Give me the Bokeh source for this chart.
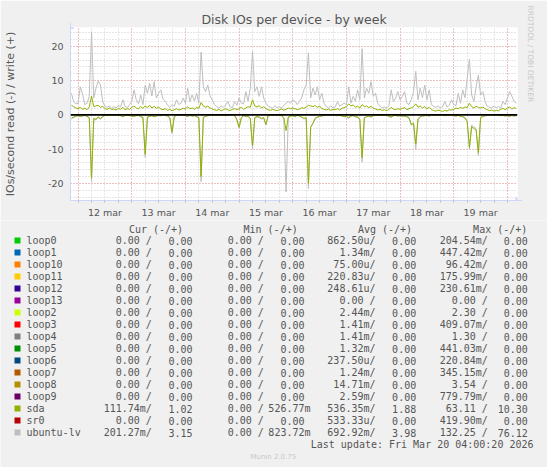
from bokeh.plotting import figure
from bokeh.models import Range1d, FixedTicker, Span, Arrow, NormalHead, Title
from bokeh.core.properties import value
from bokeh.embed import file_html
from bokeh.resources import INLINE

# ---------------- data ----------------
# hourly samples, hours since 12 Mar 2026 00:00 (from 11 Mar 21:00 to 20 Mar 04:00)
hours = list(range(-3, 197))

ubuntu_lv_write = [
    6.3, 3.9, 3.2,
    3.4, 8.2, 6.0, 3.0, 3.4, 5.4, 24.2, 4.9, 7.8, 9.9, 8.7, 3.9, 2.5, 2.2, 2.6, 1.9, 2.4, 2.0, 2.8, 2.3, 4.4, 2.5, 2.1, 3.0,
    3.9, 7.3, 4.4, 3.2, 5.8, 3.0, 8.7, 6.3, 9.2, 5.5, 9.7, 4.9, 6.3, 7.3, 4.5, 3.9, 2.8, 2.2, 3.0, 2.5, 4.4, 3.0, 3.4, 4.9,
    3.4, 7.8, 3.9, 5.8, 4.0, 6.3, 3.5, 18.3, 8.2, 6.8, 8.7, 5.5, 4.4, 3.0, 2.4, 2.0, 2.6, 2.2, 2.9, 3.9, 2.3, 2.1, 3.9, 2.8,
    4.9, 3.4, 3.2, 6.8, 4.0, 7.8, 18.5, 6.8, 8.2, 5.4, 8.2, 4.9, 3.4, 2.5, 2.2, 2.0, 2.6, 2.1, 2.4, 2.0, 2.8, 3.4, 3.9, 3.4,
    4.4, 3.9, 3.0, 3.9, 5.0, 7.3, 8.7, 18.1, 4.9, 7.8, 5.8, 8.2, 4.4, 6.3, 3.4, 2.4, 2.1, 2.6, 2.0, 2.3, 3.9, 2.5, 3.0, 3.4,
    3.0, 8.2, 3.4, 5.4, 4.0, 7.3, 4.4, 19.3, 4.9, 7.8, 6.3, 9.7, 5.4, 6.3, 3.4, 2.5, 2.1, 2.3, 2.0, 2.6, 7.3, 3.9, 4.9, 6.8,
    4.4, 5.4, 6.8, 3.4, 3.0, 4.5, 6.8, 12.7, 4.4, 7.8, 5.0, 8.7, 4.4, 7.3, 3.0, 2.5, 2.2, 2.6, 2.0, 2.4, 3.9, 2.3, 2.8, 4.4,
    3.0, 2.7, 6.3, 3.4, 7.3, 5.0, 10.6, 16.2, 5.8, 3.9, 8.2, 11.6, 5.8, 6.8, 3.9, 2.5, 2.2, 2.0, 2.6, 2.1, 2.4, 2.0, 3.9, 3.0,
    4.9, 6.8, 5.4, 3.9, 3.4,
]

sda_write = [
    2.8, 2.4, 2.0,
    1.8, 2.2, 1.6, 1.9, 1.5, 2.3, 5.5, 2.4, 2.6, 2.8, 2.2, 2.5, 1.8, 1.6, 2.0, 1.5, 1.7, 1.4, 1.9, 1.6, 2.2, 1.5, 1.8, 1.6,
    2.2, 2.6, 2.0, 1.8, 2.4, 1.9, 2.6, 2.1, 2.8, 2.0, 2.5, 1.9, 2.3, 1.7, 1.5, 1.8, 1.3, 1.6, 1.2, 1.5, 1.8, 1.4, 1.6, 1.9,
    1.7, 2.4, 1.8, 2.0, 1.6, 2.2, 1.9, 3.6, 2.6, 2.2, 2.5, 2.0, 1.7, 1.5, 1.3, 1.6, 1.2, 1.5, 1.8, 1.4, 1.3, 1.6, 1.8, 1.5,
    1.8, 2.2, 1.6, 2.0, 2.4, 2.2, 4.4, 2.6, 2.3, 2.7, 2.0, 2.4, 1.8, 1.5, 1.3, 1.6, 1.4, 1.2, 1.5, 1.7, 1.4, 1.6, 2.0, 1.8,
    2.0, 1.8, 1.5, 1.7, 2.1, 1.9, 2.3, 2.8, 2.6, 2.4, 2.7, 2.2, 2.5, 1.9, 1.6, 1.4, 1.7, 1.3, 1.6, 1.5, 1.8, 1.4, 1.9, 2.1,
    2.4, 3.2, 2.6, 2.9, 2.2, 2.5, 2.0, 3.0, 2.4, 2.6, 2.1, 2.5, 1.9, 1.7, 1.4, 1.6, 1.3, 1.5, 1.2, 1.6, 2.2, 1.7, 1.5, 1.8,
    1.6, 1.9, 2.1, 1.5, 1.8, 2.0, 2.4, 3.2, 2.2, 2.6, 2.0, 2.4, 1.8, 2.2, 1.5, 1.3, 1.1, 1.4, 1.2, 1.0, 1.3, 1.1, 1.5, 1.4,
    1.6, 2.0, 1.8, 2.2, 1.9, 2.3, 2.1, 3.4, 2.4, 2.0, 2.5, 2.2, 2.0, 2.3, 1.8, 1.5, 1.2, 1.4, 1.1, 1.3, 1.2, 1.6, 1.9, 1.5,
    2.0, 2.3, 1.7, 2.1, 1.9,
]

ubuntu_lv_read = [
    -1.2, -0.8, -0.5,
    -0.3, -0.6, -0.4, -0.2, -0.5, -1.0, -19.5, -1.2, -1.5, -0.8, -1.3, -0.5, -0.2, -0.1, -0.2, -0.1, -0.1, -0.2, -0.1, -0.3, -0.6, -0.2, -0.1, -0.3,
    -0.4, -0.5, -0.3, -0.2, -0.6, -0.9, -12.4, -0.8, -0.5, -0.3, -0.6, -0.4, -0.2, -0.3, -0.1, -0.2, -0.4, -1.0, -5.5, -0.6, -0.2, -0.1, -0.2, -0.1,
    -0.3, -0.5, -0.2, -0.4, -0.3, -0.6, -1.0, -19.5, -0.9, -0.5, -0.3, -0.2, -0.1, -0.2, -0.1, -0.1, -0.2, -0.1, -0.3, -0.2, -0.1, -0.1, -0.2, -1.5,
    -3.9, -1.0, -0.3, -0.5, -0.4, -1.2, -10.0, -1.0, -0.6, -0.8, -1.2, -1.0, -3.0, -0.3, -0.2, -0.1, -0.2, -0.1, -0.2, -0.3, -1.0, -22.5, -0.8, -0.4,
    -0.3, -0.6, -0.2, -0.4, -0.8, -1.2, -1.0, -21.5, -3.7, -2.5, -1.2, -0.8, -0.5, -0.4, -0.2, -0.1, -0.2, -0.1, -0.1, -0.2, -0.3, -0.2, -0.4, -0.6,
    -0.5, -1.0, -0.4, -0.3, -0.6, -0.8, -1.5, -13.8, -1.0, -0.6, -0.4, -0.7, -0.3, -0.2, -0.1, -0.2, -0.1, -0.1, -0.2, -0.5, -0.8, -0.3, -0.2, -0.4,
    -0.3, -0.5, -0.4, -0.6, -1.0, -3.0, -2.5, -10.0, -1.5, -0.6, -0.4, -0.3, -0.2, -0.4, -0.1, -0.2, -0.1, -0.1, -0.2, -0.1, -0.3, -0.2, -0.1, -0.2,
    -0.3, -0.4, -0.2, -0.5, -0.6, -1.0, -2.0, -10.0, -3.0, -3.5, -4.0, -11.9, -1.0, -0.5, -0.3, -0.2, -0.1, -0.1, -0.2, -0.1, -0.2, -0.3, -0.2, -0.4,
    -0.3, -0.5, -0.2, -0.4, -0.3,
]

sda_read = [
    -1.0, -0.6, -0.3,
    -0.2, -0.4, -0.3, -0.1, -0.4, -0.8, -18.5, -1.0, -1.3, -0.6, -1.1, -0.4, -0.1, -0.1, -0.1, -0.1, -0.1, -0.1, -0.1, -0.2, -0.5, -0.1, -0.1, -0.2,
    -0.3, -0.4, -0.2, -0.1, -0.5, -0.7, -11.5, -0.6, -0.4, -0.2, -0.5, -0.3, -0.1, -0.2, -0.1, -0.1, -0.3, -0.8, -5.0, -0.5, -0.1, -0.1, -0.1, -0.1,
    -0.2, -0.4, -0.1, -0.3, -0.2, -0.5, -0.8, -18.0, -0.7, -0.4, -0.2, -0.1, -0.1, -0.1, -0.1, -0.1, -0.1, -0.2, -0.1, -0.1, -0.1, -0.1, -0.2, -1.3,
    -3.6, -0.8, -0.2, -0.4, -0.3, -1.0, -9.0, -0.8, -0.5, -0.6, -1.0, -0.8, -2.8, -0.2, -0.1, -0.1, -0.1, -0.1, -0.1, -0.2, -0.8, -4.6, -0.6, -0.3,
    -0.2, -0.5, -0.1, -0.3, -0.6, -1.0, -0.8, -20.0, -3.6, -2.5, -1.0, -0.6, -0.4, -0.3, -0.1, -0.1, -0.1, -0.1, -0.1, -0.1, -0.2, -0.1, -0.3, -0.5,
    -0.4, -0.8, -0.3, -0.2, -0.5, -0.6, -1.2, -12.5, -0.8, -0.5, -0.3, -0.6, -0.2, -0.1, -0.1, -0.1, -0.1, -0.1, -0.1, -0.4, -0.6, -0.2, -0.1, -0.3,
    -0.2, -0.4, -0.3, -0.5, -0.8, -2.8, -2.4, -8.5, -1.2, -0.5, -0.3, -0.2, -0.1, -0.3, -0.1, -0.1, -0.1, -0.1, -0.1, -0.1, -0.2, -0.1, -0.1, -0.1,
    -0.2, -0.3, -0.1, -0.4, -0.5, -0.8, -1.8, -9.5, -3.5, -4.0, -4.5, -11.0, -0.8, -0.4, -0.2, -0.1, -0.1, -0.1, -0.1, -0.1, -0.1, -0.2, -0.1, -0.3,
    -0.2, -0.4, -0.1, -0.3, -0.2,
]

day_labels = ["12 mar", "13 mar", "14 mar", "15 mar", "16 mar", "17 mar", "18 mar", "19 mar"]
y_ticks = [-20, -10, 0, 10, 20]

legend_names = ["loop0", "loop1", "loop10", "loop11", "loop12", "loop13", "loop2", "loop3", "loop4",
                "loop5", "loop6", "loop7", "loop8", "loop9", "sda", "sr0", "ubuntu-lv"]
legend_colors = ["#00CC00", "#0066B3", "#FF8000", "#FFCC00", "#330099", "#990099", "#CCFF00", "#FF0000",
                 "#808080", "#008F00", "#00487D", "#B35A00", "#B38F00", "#6B006B", "#8FB300", "#B30000", "#BEBEBE"]
cur_read = ["0.00 /"] * 14 + ["111.74m/", "0.00 /", "201.27m/"]
cur_write = ["0.00"] * 14 + ["1.02", "0.00", "3.15"]
min_read = ["0.00 /"] * 17
min_write = ["0.00"] * 14 + ["526.77m", "0.00", "823.72m"]
avg_read = ["862.50u/", "1.34m/", "75.00u/", "220.83u/", "248.61u/", "0.00 /", "2.44m/", "1.41m/", "1.41m/",
            "1.32m/", "237.50u/", "1.24m/", "14.71m/", "2.59m/", "536.35m/", "533.33u/", "692.92m/"]
avg_write = ["0.00"] * 14 + ["1.88", "0.00", "3.98"]
max_read = ["204.54m/", "447.42m/", "96.42m/", "175.99m/", "230.61m/", "0.00 /", "2.30 /", "409.07m/", "1.30 /",
            "441.03m/", "220.84m/", "345.15m/", "3.54 /", "779.79m/", "63.11 /", "419.90m/", "132.25 /"]
max_write = ["0.00"] * 14 + ["10.30", "0.00", "76.12"]
column_headers = ["Cur (-/+)", "Min (-/+)", "Avg (-/+)", "Max (-/+)"]
last_update = "Last update: Fri Mar 20 04:00:20 2026"

for s in (ubuntu_lv_write, sda_write, ubuntu_lv_read, sda_read):
    assert len(s) == len(hours), len(s)

# ---------------- styling ----------------
FONT = "DejaVu Sans"
MONO = "DejaVu Sans Mono"
TXT = "#555555"
AX = "#CFD6F8"
BG = "#F0F0F0"

W = 547
H_CHART = 220
H_LEG = 467 - H_CHART
FL, FR, FT, FB = 67, 517, 27, 203   # frame edges in page pixels

X0, X1 = -3.4, 196.5
Y0, Y1 = -25.0, 25.5

p = figure(width=W, height=H_CHART, x_range=Range1d(X0, X1), y_range=Range1d(Y0, Y1),
           output_backend="svg", toolbar_location=None,
           min_border_left=FL, min_border_right=W - FR, min_border_top=FT, min_border_bottom=H_CHART - FB,
           background_fill_color="#FFFFFF", border_fill_color=BG, outline_line_color=None)

# title (centered on the whole image)
p.title.text = "Disk IOs per device - by week"
p.title.align = "center"
p.title.offset = (W / 2) - (FL + FR) / 2
p.title.standoff = 2
p.title.text_font = FONT
p.title.text_font_size = "12.5px"
p.title.text_font_style = "normal"
p.title.text_color = TXT

p.add_layout(Title(text="RRDTOOL / TOBI OETIKER", align="left", offset=-22, standoff=17,
                   text_font=FONT, text_font_size="7.5px", text_font_style="normal",
                   text_color="#C8C8C8"), "right")

noon = [12 + 24 * i for i in range(len(day_labels))]
midnights = [24 * i for i in range(0, 9)]
six_h = [h for h in range(0, 197, 6)]

xa = p.xaxis[0]
xa.ticker = FixedTicker(ticks=noon, minor_ticks=six_h)
xa.major_label_overrides = {t: s for t, s in zip(noon, day_labels)}
xa.major_tick_out = 0
xa.major_tick_in = 0
xa.minor_tick_out = 2
xa.minor_tick_in = 0
xa.minor_tick_line_color = "#BBBBBB"
xa.major_label_standoff = 4

ya = p.yaxis[0]
ya.ticker = FixedTicker(ticks=y_ticks, minor_ticks=[])
ya.major_label_overrides = {t: str(t) for t in y_ticks}
ya.major_tick_out = 0
ya.major_tick_in = 0
ya.minor_tick_line_color = None
ya.major_label_standoff = 7
ya.axis_label = "IOs/second read (-) / write (+)"
ya.axis_label_text_font = FONT
ya.axis_label_text_font_size = "11px"
ya.axis_label_text_font_style = "normal"
ya.axis_label_text_color = TXT
ya.axis_label_standoff = 28

for ax in (xa, ya):
    ax.axis_line_color = AX
    ax.major_label_text_font = FONT
    ax.major_label_text_font_size = "9.5px"
    ax.major_label_text_color = TXT

xg = p.xgrid[0]
xg.ticker = FixedTicker(ticks=midnights, minor_ticks=six_h)
yg = p.ygrid[0]
yg.ticker = FixedTicker(ticks=y_ticks, minor_ticks=list(range(-24, 26, 2)))
for g in (xg, yg):
    g.grid_line_color = "#F09A9A"
    g.grid_line_dash = "1 2"
    g.minor_grid_line_color = "#CDCDCD"
    g.minor_grid_line_dash = "1 2"

p.line(hours, ubuntu_lv_write, line_color="#BEBEBE", line_width=1)
p.line(hours, ubuntu_lv_read, line_color="#BEBEBE", line_width=1)
p.line(hours, sda_write, line_color="#8FB300", line_width=1)
p.line(hours, sda_read, line_color="#8FB300", line_width=1)
p.add_layout(Span(location=0, dimension="width", line_color="#000000", line_width=1.6))

# axis arrows
px_x = (X1 - X0) / (FR - FL)
px_y = (Y1 - Y0) / (FB - FT)
p.add_layout(Arrow(end=NormalHead(size=6, fill_color=AX, line_color=AX), x_start=X1 - 1, y_start=Y0,
                   x_end=X1 + 4.5 * px_x, y_end=Y0, line_color=AX, line_width=1))
p.add_layout(Arrow(end=NormalHead(size=6, fill_color=AX, line_color=AX), x_start=X0, y_start=Y1 - 1,
                   x_end=X0, y_end=Y1 + 5 * px_y, line_color=AX, line_width=1))

# ---------------- legend (separate root below the chart, 1 data unit = 1 page pixel) ----------------
q = figure(width=W, height=H_LEG, x_range=Range1d(0, W), y_range=Range1d(467, H_CHART),
           output_backend="svg", toolbar_location=None, x_axis_type=None, y_axis_type=None,
           min_border=0, min_border_left=0, min_border_right=0, min_border_top=0, min_border_bottom=0,
           background_fill_color=BG, border_fill_color=BG, outline_line_color=None)

n = len(legend_names)
rows_y = [240 + 12 * i for i in range(n)]
CW = 6.0


def texts(xs, ys, labels, align, color=TXT, size="10px", font=MONO):
    q.text(x=xs, y=ys, text=labels, text_align=align, text_baseline="middle",
           text_font=value(font), text_font_size=value(size), text_color=color)


q.rect(x=[17] * n, y=rows_y, width=6, height=6, fill_color=legend_colors, line_color=None)
texts([26] * n, rows_y, legend_names, "left")

read_ends = [151.3, 263.3, 375.0, 487.3]
write_ends = [192.0, 304.0, 415.7, 527.3]
for col, end in zip((cur_read, min_read, avg_read, max_read), read_ends):
    texts([end] * n, rows_y, col, "right")
for col, end in zip((cur_write, min_write, avg_write, max_write), write_ends):
    texts([end + (CW if s[-1].isalpha() else 0) for s in col], rows_y, col, "right")

header_ends = [182.6, 297.2, 411.6, 526.8]
texts(header_ends, [228.5] * 4, column_headers, "right")
texts([533.0], [444.0], [last_update], "right")
texts([272.8], [456.0], ["Munin 2.0.75"], "center", color="#C8C8C8", size="7px", font=FONT)

open("out.html", "w").write(file_html([p, q], INLINE))
